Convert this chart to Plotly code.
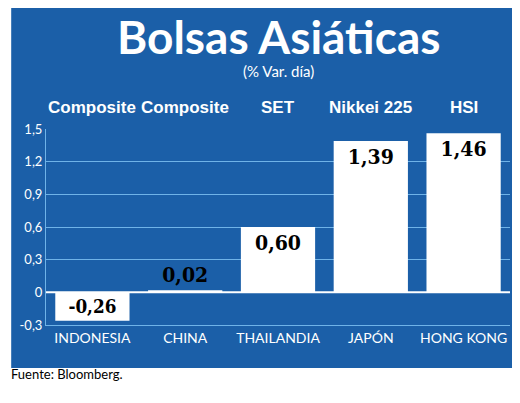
import plotly.graph_objects as go

paises = ["INDONESIA", "CHINA", "THAILANDIA", "JAPÓN", "HONG KONG"]
indices = ["Composite", "Composite", "SET", "Nikkei 225", "HSI"]
variacion = [-0.26, 0.02, 0.60, 1.39, 1.46]
ticks = [-0.3, 0, 0.3, 0.6, 0.9, 1.2, 1.5]
tick_txt = ["-0,3", "0", "0,3", "0,6", "0,9", "1,2", "1,5"]

azul = "#1b5fa8"
linea = "#6fb3e8"
etiquetas = [f"<b>{v:.2f}</b>".replace(".", ",") for v in variacion]
pos = ["outside" if v < 0.1 else "inside" for v in variacion]
pos[0] = "inside"

fig = go.Figure(go.Bar(
    x=paises, y=variacion, marker=dict(color="white", line=dict(width=0)),
    text=etiquetas, textposition=pos, insidetextanchor="end",
    textfont=dict(family="DejaVu Serif Condensed, DejaVu Serif", size=21, color="black"),
    cliponaxis=False, width=0.8,
))

fig.add_shape(type="rect", xref="paper", yref="paper", x0=-0.075, x1=1.03, y0=-0.22, y1=1.62,
              fillcolor=azul, line=dict(width=0), layer="below")
fig.add_hline(y=0, line=dict(color="white", width=2))

for p, ind in zip(paises, indices):
    fig.add_annotation(x=p, y=1.17, yref="paper", text="<b>" + ind + "</b>", showarrow=False,
                       font=dict(family="Liberation Sans Narrow, Liberation Sans", size=17, color="white"))
fig.add_annotation(x=0.5, y=1.62, xref="paper", yref="paper", text="<b>Bolsas Asiáticas</b>", showarrow=False,
                   font=dict(family="Lato", size=46, color="white"))
fig.add_annotation(x=0.5, y=1.35, xref="paper", yref="paper", text="(% Var. día)", showarrow=False,
                   font=dict(family="Lato", size=15, color="white"))
fig.add_annotation(x=-0.08, y=-0.3, xref="paper", yref="paper", text="Fuente: Bloomberg.", showarrow=False,
                   xanchor="left", font=dict(family="Lato", size=13, color="black"))

fig.update_layout(
    width=520, height=403, paper_bgcolor="white", plot_bgcolor=azul,
    margin=dict(l=38, r=18, t=121, b=86), showlegend=False, bargap=0.18,
    xaxis=dict(showline=True, linecolor=linea, tickfont=dict(family="Lato", size=14, color="white"),
               ticks="", ticklen=8, tickcolor=azul),
    yaxis=dict(range=[-0.3, 1.5], tickvals=ticks, ticktext=tick_txt, showgrid=True, gridcolor=linea,
               showline=True, linecolor=linea, zeroline=False,
               tickfont=dict(family="Lato", size=13, color="white")),
)
fig.write_html("out.html")
